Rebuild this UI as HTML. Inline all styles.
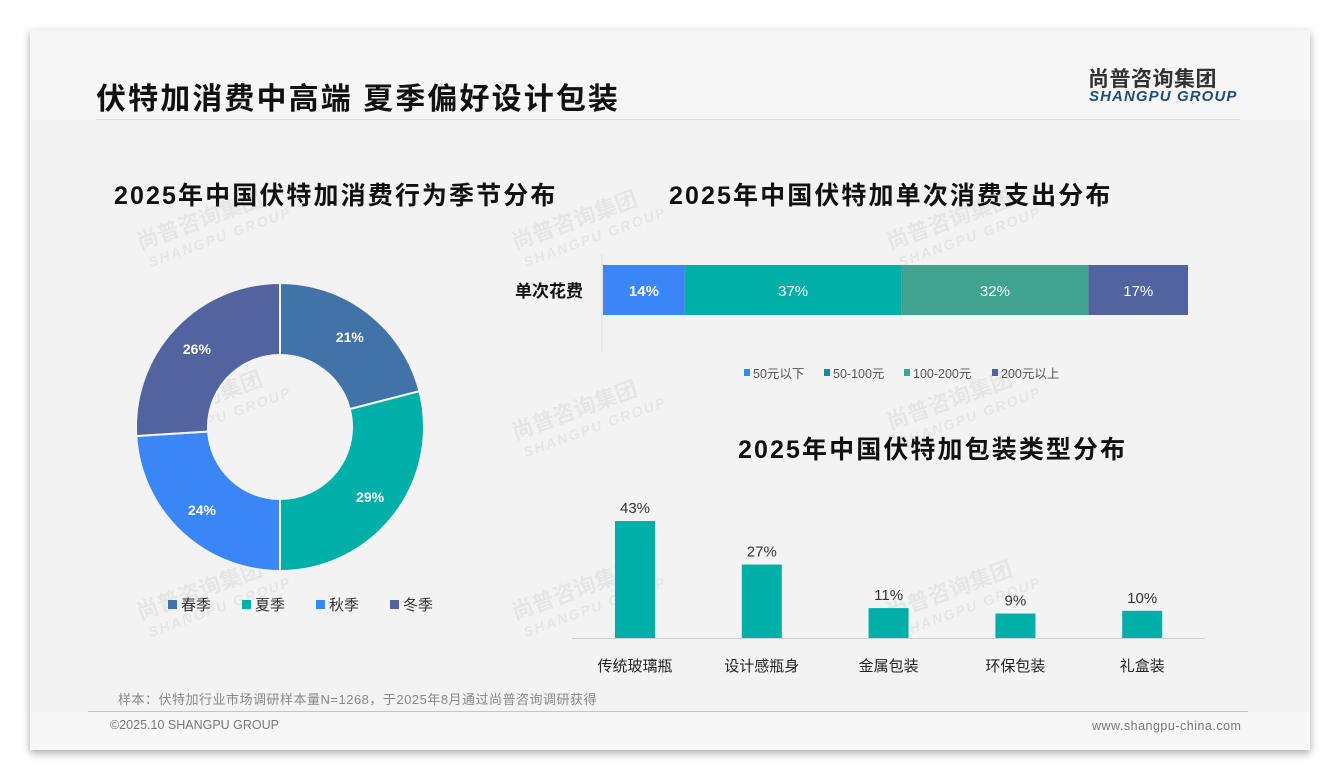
<!DOCTYPE html>
<html><head><meta charset="utf-8"><style>
body{margin:0;width:1340px;height:780px;background:#fff;position:relative;overflow:hidden;font-family:"Liberation Sans","Noto Sans CJK SC",sans-serif}
.card{position:absolute;left:30px;top:30px;width:1280px;height:720px;background:#f3f3f3;box-shadow:0 3px 8px rgba(0,0,0,.35)}
.abs{position:absolute}
</style></head><body>
<div class="card"></div>
<div class="abs" style="left:30px;top:30px;width:1280px;height:90px;background:#f6f6f6"></div>
<div class="abs" style="left:96px;top:74px;font-size:30px;font-weight:bold;color:#111;letter-spacing:2.1px">伏特加消费中高端 夏季偏好设计包装</div>
<div class="abs" style="left:96px;top:119px;width:1144px;height:1px;background:#ddd"></div>
<div class="abs" style="left:1088px;top:63px;font-size:21px;font-weight:bold;color:#333;letter-spacing:0.5px">尚普咨询集团</div>
<div class="abs" style="left:1089px;top:88px;font-size:15px;font-weight:bold;font-style:italic;color:#1f4e79;letter-spacing:1.1px">SHANGPU GROUP</div>

<div class="abs" style="left:114px;top:176px;font-size:25px;font-weight:bold;color:#111;letter-spacing:2.1px">2025年中国伏特加消费行为季节分布</div>
<div class="abs" style="left:669px;top:176px;font-size:25px;font-weight:bold;color:#111;letter-spacing:2.1px">2025年中国伏特加单次消费支出分布</div>
<div class="abs" style="left:738px;top:430px;font-size:25px;font-weight:bold;color:#111;letter-spacing:2.1px">2025年中国伏特加包装类型分布</div>

<svg class="abs" style="left:0;top:0" width="1340" height="780" id="chart"></svg>

<div class="abs" style="left:118px;top:689px;font-size:13px;color:#888;letter-spacing:0.5px">样本：伏特加行业市场调研样本量N=1268，于2025年8月通过尚普咨询调研获得</div>
<div class="abs" style="left:88px;top:711px;width:1160px;height:1px;background:#b8c8d8"></div>
<div class="abs" style="left:30px;top:712px;width:1280px;height:38px;background:#f7f7f7"></div>
<div class="abs" style="left:110px;top:718px;font-size:12.5px;color:#777">©2025.10 SHANGPU GROUP</div>
<div class="abs" style="left:1092px;top:719px;font-size:12.5px;color:#777;letter-spacing:0.5px">www.shangpu-china.com</div>

<script>
const seasons=['春季','夏季','秋季','冬季'];
const seasonValues=[21,29,24,26];
const seasonColors=['#4273a8','#00b0a8','#3a86f6','#5264a0'];
const spendCats=['50元以下','50-100元','100-200元','200元以上'];
const spendValues=[14,37,32,17];
const spendColors=['#3a86f6','#00b0a8','#40a390','#5264a0'];
const packCats=['传统玻璃瓶','设计感瓶身','金属包装','环保包装','礼盒装'];
const packValues=[43,27,11,9,10];

const svg=document.getElementById('chart');
const NS='http://www.w3.org/2000/svg';
function mk(t,a,p){const e=document.createElementNS(NS,t);for(const k in a)e.setAttribute(k,a[k]);(p||svg).appendChild(e);return e;}
function txt(x,y,s,a){const e=mk('text',Object.assign({x:x,y:y,'font-family':'Liberation Sans, Noto Sans CJK SC, sans-serif'},a));e.textContent=s;return e;}

// watermarks
[[140,250],[515,250],[890,250],[140,430],[515,440],[890,430],[140,620],[515,620],[890,620]].forEach(p=>{
  const g=mk('g',{transform:`translate(${p[0]},${p[1]}) rotate(-20)`,opacity:0.05});
  
  
  const t1=mk('text',{x:0,y:0,'font-size':22,'font-weight':'bold',fill:'#000','font-family':'Noto Sans CJK SC, sans-serif'},g);t1.textContent='尚普咨询集团';
  const t2=mk('text',{x:4,y:20,'font-size':14,'font-weight':'bold','font-style':'italic',fill:'#000','letter-spacing':2,'font-family':'Liberation Sans, sans-serif'},g);t2.textContent='SHANGPU GROUP';
});

// donut
const cx=280,cy=427,R=144,r=72;
const tot=seasonValues.reduce((a,b)=>a+b,0);
let ang=0;
seasonValues.forEach((v,i)=>{
  const a0=ang,a1=ang+v/tot*2*Math.PI;ang=a1;
  const pt=(rr,a)=>[cx+rr*Math.sin(a),cy-rr*Math.cos(a)];
  const [x0,y0]=pt(R,a0),[x1,y1]=pt(R,a1),[x2,y2]=pt(r,a1),[x3,y3]=pt(r,a0);
  const lg=(a1-a0)>Math.PI?1:0;
  const p=mk('path',{d:`M${x0},${y0}A${R},${R} 0 ${lg} 1 ${x1},${y1}L${x2},${y2}A${r},${r} 0 ${lg} 0 ${x3},${y3}Z`,fill:seasonColors[i],stroke:'#f3f3f3','stroke-width':2});
  
  
  const m=(a0+a1)/2,[lx,ly]=pt((R+r)/2+6,m);
  const l=txt(lx,ly+5,v+'%',{'font-size':14,'font-weight':'bold',fill:'#fff','text-anchor':'middle'});
  
  
});
seasons.forEach((s,i)=>{
  const x=168+i*74;
  const sq=mk('rect',{x:x,y:600,width:9,height:9,fill:seasonColors[i]});
  
  
  const t=txt(x+13,610,s,{'font-size':15,fill:'#333'});
  
  
});

// stacked bar
const bx0=603,bw=585,by=265,bh=50;
const ax=mk('line',{x1:602,y1:255,x2:602,y2:352,stroke:'#d8d8d8'});


const yl=txt(583,297,'单次花费',{'font-size':17,'font-weight':'bold',fill:'#111','text-anchor':'end'});


const st=spendValues.reduce((a,b)=>a+b,0);
let acc=0;
spendValues.forEach((v,i)=>{
  const x=bx0+acc/st*bw,w=v/st*bw;acc+=v;
  const rc=mk('rect',{x:x,y:by,width:w,height:bh,fill:spendColors[i]});
  
  
  const t=txt(x+w/2,by+31,v+'%',{'font-size':15,'font-weight':i==0?'bold':'normal',fill:'#fff','text-anchor':'middle'});
  
  
});
const lgx=[744,824,904,992];
spendCats.forEach((c,i)=>{
  const sq=mk('rect',{x:lgx[i],y:369,width:6,height:7,fill:i==1?'#1a8a9a':spendColors[i]});
  
  
  const t=txt(lgx[i]+9,378,c,{'font-size':12.5,fill:'#555'});
  
  
});

// column chart
const base=638,scale=2.72,c0=635,step=126.8,cw=40;
const xa=mk('line',{x1:572,y1:base+0.5,x2:1205,y2:base+0.5,stroke:'#d0d0d0'});


packValues.forEach((v,i)=>{
  const cx2=c0+i*step,h=v*scale;
  const rc=mk('rect',{x:cx2-cw/2,y:base-h,width:cw,height:h,fill:'#00b0a8'});
  
  
  const t=txt(cx2,base-h-8,v+'%',{'font-size':15,fill:'#333','text-anchor':'middle'});
  
  
  const c=txt(cx2,671,packCats[i],{'font-size':15,fill:'#222','text-anchor':'middle'});
  
  
});
</script>
</body></html>
